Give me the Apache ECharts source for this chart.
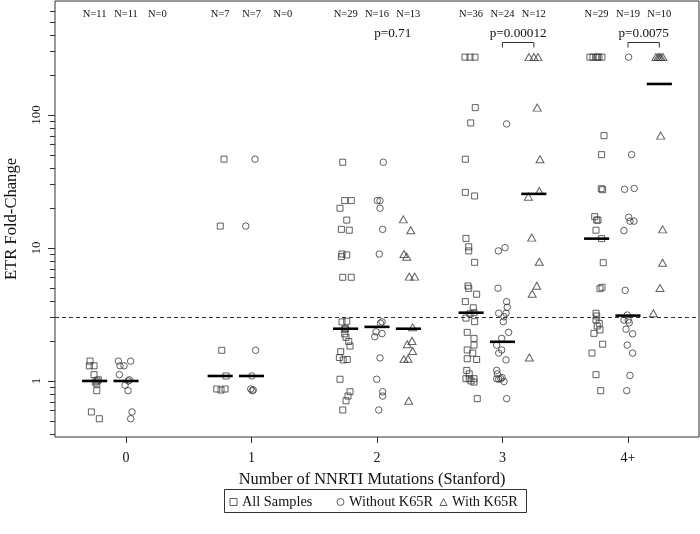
<!DOCTYPE html>
<html>
<head>
<meta charset="utf-8">
<script src="https://cdn.jsdelivr.net/npm/echarts@6/dist/echarts.min.js"></script>
<style>html,body{margin:0;padding:0;background:#fff}#c{width:700px;height:534px}</style>
</head>
<body>
<div id="c"></div>
<script>
// ---------- DATA ----------
const groups = ['0', '1', '2', '3', '4+'];
const nAll = [11, 7, 29, 36, 29];
const nWithout = [11, 7, 16, 24, 19];
const nWith = [0, 0, 13, 12, 10];
const pLabels = ['', '', 'p=0.71', 'p=0.00012', 'p=0.0075'];
const pBracket = [false, false, false, true, true];
const cutoff = 3;
const yMajor = [1, 10, 100];
const yMinor = [0.4, 0.5, 0.6, 0.7, 0.8, 0.9, 2, 3, 4, 5, 6, 7, 8, 9, 20, 30, 40, 50, 60, 70, 80, 90, 200, 300, 400, 500, 600];

// [x (group + jitter), ETR fold-change]
const allSamples = [
  // 0
  [-0.287,1.41],[-0.292,1.30],[-0.255,1.30],[-0.255,1.115],[-0.221,1.02],[-0.231,1.0],[-0.245,0.98],[-0.233,0.95],[-0.233,0.845],[-0.276,0.585],[-0.213,0.52],
  // 1
  [0.781,46.5],[0.751,14.6],[0.763,1.70],[0.797,1.09],[0.723,0.87],[0.757,0.855],[0.789,0.87],
  // 2
  [1.727,44.1],[1.743,22.7],[1.795,22.7],[1.705,19.9],[1.759,16.2],[1.716,13.8],[1.779,13.6],[1.721,9.0],[1.716,8.6],[1.759,8.86],
  [1.727,6.02],[1.795,6.02],[1.721,2.78],[1.759,2.81],[1.743,2.45],[1.749,2.47],[1.743,2.26],[1.753,2.13],[1.775,1.98],[1.785,1.83],
  [1.711,1.66],[1.700,1.50],[1.731,1.44],[1.763,1.45],[1.705,1.03],[1.785,0.83],[1.769,0.77],[1.753,0.71],[1.727,0.605],
  // 3
  [2.701,272],[2.741,272],[2.781,272],[2.783,113.5],[2.747,87.1],[2.704,46.5],[2.704,26.2],[2.778,24.6],[2.709,11.8],[2.731,10.2],
  [2.731,9.5],[2.778,7.8],[2.725,5.18],[2.731,4.97],[2.794,4.49],[2.704,3.95],[2.767,3.55],[2.773,3.26],[2.741,3.2],[2.709,2.97],
  [2.778,2.79],[2.719,2.32],[2.773,2.09],[2.773,1.86],[2.719,1.71],[2.763,1.62],[2.719,1.47],[2.794,1.45],[2.715,1.20],[2.735,1.13],
  [2.709,1.04],[2.735,1.04],[2.773,1.04],[2.749,1.0],[2.773,0.98],[2.799,0.736],
  // 4+
  [3.697,272],[3.721,272],[3.745,272],[3.769,272],[3.793,272],[3.757,272],[3.809,69.9],[3.790,50.3],[3.787,27.9],[3.798,27.4],
  [3.735,17.2],[3.751,16.2],[3.761,16.2],[3.745,13.6],[3.790,11.75],[3.803,7.75],[3.793,5.06],[3.777,4.94],[3.745,3.23],[3.751,3.08],
  [3.745,2.87],[3.771,2.71],[3.755,2.59],[3.777,2.42],[3.729,2.28],[3.798,1.89],[3.713,1.62],[3.745,1.115],[3.783,0.845]
];
const withoutK65R = [
  // 0
  [-0.061,1.41],[0.037,1.41],[-0.048,1.30],[-0.016,1.30],[-0.053,1.115],[0.026,1.02],[0.018,1.0],[-0.008,0.93],[0.016,0.845],[0.048,0.585],[0.037,0.52],
  // 1
  [1.028,46.5],[0.954,14.6],[1.033,1.70],[1.002,1.09],[0.994,0.87],[1.014,0.855],[1.006,0.845],
  // 2
  [2.050,44.1],[2.002,22.7],[2.024,22.7],[2.024,19.9],[2.045,13.8],[2.018,9.0],[2.040,2.78],[2.028,2.72],[1.992,2.34],[2.040,2.27],
  [1.982,2.15],[2.024,1.49],[1.998,1.03],[2.045,0.83],[2.045,0.77],[2.014,0.605],
  // 3
  [3.033,85.6],[3.020,10.05],[2.967,9.5],[2.964,4.98],[3.033,3.95],[3.038,3.58],[2.970,3.23],[3.028,3.23],[3.012,3.04],[3.006,2.79],
  [3.049,2.32],[2.994,2.09],[2.954,1.86],[2.994,1.71],[2.970,1.62],[3.028,1.44],[2.954,1.20],[2.959,1.13],[2.954,1.04],[2.970,1.03],
  [2.986,1.04],[2.996,1.06],[3.012,0.99],[3.033,0.736],
  // 4+
  [4.005,272],[4.029,50.3],[3.973,27.6],[4.050,28.0],[4.006,17.0],[4.016,15.9],[4.048,15.9],[3.968,13.5],[3.978,4.8],[3.994,3.13],
  [3.968,2.87],[4.002,2.87],[4.010,2.74],[3.984,2.45],[4.037,2.26],[3.994,1.86],[4.037,1.62],[4.016,1.10],[3.990,0.845]
];
const withK65R = [
  // 2
  [2.210,16.4],[2.269,13.6],[2.215,9.0],[2.237,8.6],[2.257,6.09],[2.300,6.09],[2.284,2.53],[2.279,2.0],[2.241,1.89],[2.284,1.68],
  [2.215,1.46],[2.247,1.47],[2.253,0.71],
  // 3
  [3.211,272],[3.251,272],[3.283,272],[3.277,113.5],[3.299,46.5],[3.293,26.8],[3.206,24.3],[3.233,11.96],[3.293,7.88],[3.273,5.2],
  [3.237,4.53],[3.214,1.50],
  // 4+
  [4.223,272],[4.239,272],[4.251,272],[4.263,272],[4.279,272],[4.261,69.9],[4.276,13.8],[4.276,7.75],[4.255,5.0],[4.202,3.23]
];
// medians [subgroup center x, median]
const medians = [
  [-0.25,1.0],[0,1.0],
  [0.75,1.09],[1,1.09],
  [1.75,2.47],[2,2.55],[2.25,2.47],
  [2.75,3.26],[3,1.97],[3.25,25.5],
  [3.75,11.75],[4,3.1],[4.25,171]
];

// ---------- LAYOUT ----------
const FONT = 'Liberation Serif';
const INK = '#111';
const LINE = '#333';
const xMin = -0.566, xMax = 4.566, yMin = 0.379, yMax = 719;
const subOffsets = [-0.25, 0, 0.25];

const chart = echarts.init(document.getElementById('c'), null, {renderer: 'canvas'});

const markerStyle = {color: 'rgba(255,255,255,0)', borderColor: '#3a3a3a', borderWidth: 1};
const legendCommon = {
  top: 495, padding: 0, itemGap: 0, itemWidth: 7, itemHeight: 7,
  textStyle: {fontFamily: FONT, fontSize: 14.3, color: INK},
  itemStyle: {color: 'rgba(255,255,255,0)', borderColor: '#3a3a3a', borderWidth: 1},
  selectedMode: false
};

const option = {
  animation: false,
  backgroundColor: '#fff',
  grid: {left: 55, right: 1, top: 1, bottom: 97, containLabel: false, outerBoundsMode: 'none',
    show: true, borderColor: LINE, borderWidth: 1, backgroundColor: 'transparent'},
  xAxis: {
    type: 'value', min: xMin, max: xMax,
    axisLine: {show: false, onZero: false}, splitLine: {show: false},
    axisTick: {show: true, customValues: [0, 1, 2, 3, 4], length: 6, lineStyle: {color: LINE}},
    axisLabel: {customValues: [0, 1, 2, 3, 4], formatter: v => groups[Math.round(v)], margin: 14, fontSize: 14, fontFamily: FONT, color: INK},
    name: 'Number of NNRTI Mutations (Stanford)', nameLocation: 'middle', nameGap: 35,
    nameTextStyle: {fontSize: 16.4, fontFamily: FONT, color: INK, padding: [0, 10, 0, 0]}
  },
  yAxis: {
    type: 'log', logBase: 10, min: yMin, max: yMax,
    axisLine: {show: false, onZero: false}, splitLine: {show: false}, minorTick: {show: false},
    axisTick: {show: true, customValues: yMajor, length: 7, lineStyle: {color: LINE}},
    axisLabel: {customValues: yMajor, rotate: 90, margin: 12, fontSize: 13, fontFamily: FONT, color: INK,
      formatter: v => String(Math.round(v))},
    name: 'ETR Fold-Change', nameLocation: 'middle', nameGap: 35, nameRotate: 90,
    nameTextStyle: {fontSize: 16.6, fontFamily: FONT, color: INK}
  },
  legend: [
    Object.assign({data: [{name: 'All Samples', icon: 'rect'}], left: 229.5}, legendCommon),
    Object.assign({data: [{name: 'Without K65R', icon: 'circle'}], left: 336.5}, legendCommon),
    Object.assign({data: [{name: 'With K65R', icon: 'triangle'}], left: 439.5}, legendCommon)
  ],
  graphic: [{
    type: 'rect', shape: {x: 224.5, y: 489.5, width: 302, height: 23},
    style: {fill: 'none', stroke: LINE, lineWidth: 1}, silent: true
  }],
  series: [
    {
      name: 'All Samples', type: 'scatter', symbol: 'rect', symbolSize: 6,
      itemStyle: markerStyle, data: allSamples, z: 3,
      markLine: {
        silent: true, symbol: ['none', 'none'], label: {show: false},
        lineStyle: {type: [4, 3], color: LINE, width: 1},
        data: [{yAxis: cutoff}]
      }
    },
    {name: 'Without K65R', type: 'scatter', symbol: 'circle', symbolSize: 6.5, itemStyle: markerStyle, data: withoutK65R, z: 3},
    {name: 'With K65R', type: 'scatter', symbol: 'triangle', symbolSize: [8, 7], itemStyle: markerStyle, data: withK65R, z: 3},
    {
      name: 'medians', type: 'custom', z: 5, clip: false, data: medians,
      renderItem: (params, api) => {
        const x = api.value(0), v = api.value(1);
        const a = api.coord([x - 0.1, v]), b = api.coord([x + 0.1, v]);
        return {type: 'line', shape: {x1: a[0], y1: a[1], x2: b[0], y2: b[1]}, style: {stroke: '#000', lineWidth: 2.6}};
      }
    },
    {
      name: 'minorTicks', type: 'custom', z: 5, clip: false, silent: true,
      data: yMinor.map(v => [xMin, v]),
      renderItem: (params, api) => {
        const p = api.coord([api.value(0), api.value(1)]);
        const x0 = params.coordSys.x;
        return {type: 'line', shape: {x1: x0 - 5, y1: Math.round(p[1]) + 0.5, x2: x0, y2: Math.round(p[1]) + 0.5}, style: {stroke: LINE, lineWidth: 1}};
      }
    },
    {
      name: 'annotations', type: 'custom', z: 6, clip: false, silent: true,
      data: groups.map((g, i) => [i, 1]),
      renderItem: (params, api) => {
        const i = api.value(0);
        const top = params.coordSys.y;
        const xs = subOffsets.map(o => api.coord([i + o, 1])[0]);
        const ns = [nAll[i], nWithout[i], nWith[i]];
        const children = ns.map((n, k) => ({
          type: 'text',
          style: {text: 'N=' + n, x: xs[k], y: top + 13, align: 'center', verticalAlign: 'middle',
            fontSize: 10.5, fontFamily: FONT, fill: INK}
        }));
        if (pLabels[i]) {
          children.push({
            type: 'text',
            style: {text: pLabels[i], x: (xs[1] + xs[2]) / 2, y: top + 33, align: 'center', verticalAlign: 'middle',
              fontSize: 13.2, fontFamily: FONT, fill: INK}
          });
        }
        if (pBracket[i]) {
          const y = Math.round(top + 41) + 0.5;
          children.push({
            type: 'polyline',
            shape: {points: [[xs[1], y + 5], [xs[1], y], [xs[2], y], [xs[2], y + 5]]},
            style: {stroke: LINE, lineWidth: 1, fill: 'none'}
          });
        }
        return {type: 'group', children};
      }
    }
  ]
};
chart.setOption(option);
</script>
</body>
</html>
